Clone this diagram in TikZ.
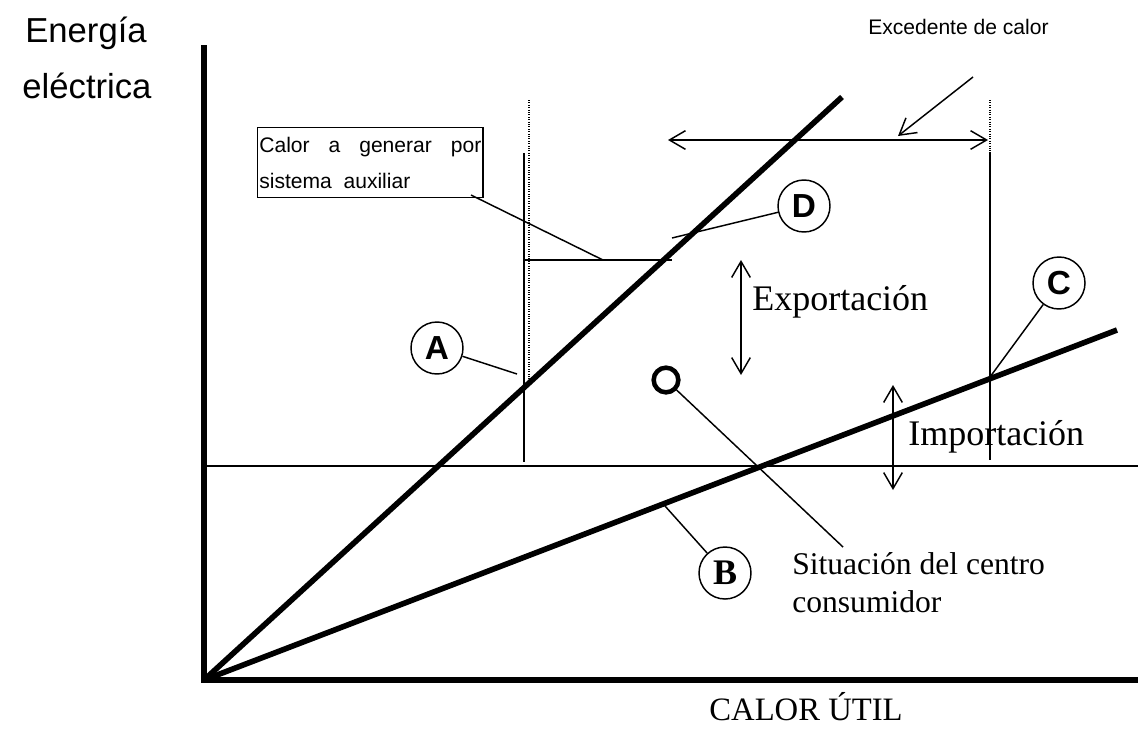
\documentclass[tikz,border=0pt]{standalone}
\usepackage{fontspec}
\setmainfont{Liberation Serif}
\setsansfont{Liberation Sans}
\usetikzlibrary{arrows.meta}

\begin{document}
\begin{tikzpicture}[x=0.75pt, y=-0.75pt,
    axisline/.style={line width=4pt},
    heavy/.style={line width=4.2pt},
    guide/.style={line width=1.1pt},
    dotguide/.style={line width=0.8pt, densely dotted},
    dblarr/.style={{Straight Barb[length=12pt,width=14pt]}-{Straight Barb[length=12pt,width=14pt]}, line width=1.1pt},
    arr/.style={-{Straight Barb[length=12pt,width=14pt]}, line width=1.1pt},
    tag/.style={draw, circle, line width=1.1pt, minimum size=39pt, inner sep=0pt},
    big/.style={font=\fontsize{27}{27}\selectfont, anchor=base west, inner sep=0pt}
]
\useasboundingbox (0,0) rectangle (1138,733);

% Axes
\coordinate (o) at (204,680);
\coordinate (ytop) at (204,45);
\coordinate (xend) at (1138,680);
\draw[axisline] (ytop) -- (o) -- (xend);
\node[anchor=base, inner sep=0pt, font=\sffamily\fontsize{26}{26}\selectfont] (ylab1) at (86,42) {Energía};
\node[anchor=base, inner sep=0pt, font=\sffamily\fontsize{26}{26}\selectfont] (ylab2) at (87,98) {eléctrica};
\node[anchor=base, inner sep=0pt, font=\fontsize{24.5}{24.5}\selectfont] (xlab) at (806,720) {CALOR ÚTIL};

% Demand level
\coordinate (hl) at (204,466);
\coordinate (hr) at (1138,466);
\draw[guide] (hl) -- (hr);

% Lines A/D and B/C
\coordinate (aend) at (842,97);
\coordinate (bend) at (1117,330);
\draw[heavy] (o) -- (aend);
\draw[heavy] (o) -- (bend);

% Left limit (auxiliary heat)
\coordinate (lt) at (524,153);
\coordinate (lb) at (524,462);
\coordinate (ldt) at (529,100);
\coordinate (ldb) at (529,385);
\draw[guide] (lt) -- (lb);
\draw[dotguide] (ldt) -- (ldb);
\coordinate (hs) at (524,260);
\coordinate (he) at (672,260);
\draw[guide] (hs) -- (he);

\node[draw, line width=1.1pt, anchor=north west, text width=166.5pt, minimum height=52.5pt,
      inner sep=1.2pt, align=justify, font=\sffamily\fontsize{15.8}{27}\selectfont]
      (cbox) at (257,127) {\hyphenpenalty=10000 Calor a generar por\linebreak sistema\ \ auxiliar};
\coordinate (boxfoot) at (471,195);
\coordinate (hfoot) at (603,260);
\draw[guide] (boxfoot) -- (hfoot);

% Right limit (heat surplus)
\coordinate (rdt) at (990,100);
\coordinate (rt) at (990,152);
\coordinate (rb) at (990,460);
\draw[dotguide] (rdt) -- (rt);
\draw[guide] (rt) -- (rb);
\coordinate (sl) at (668,140);
\coordinate (sr) at (988,140);
\draw[dblarr] (sl) -- (sr);
\node[anchor=base west, inner sep=0pt, font=\sffamily\fontsize{15.8}{15.8}\selectfont] (exc) at (868,34) {Excedente de calor};
\coordinate (excfrom) at (973,77);
\coordinate (excto) at (898,136);
\draw[arr] (excfrom) -- (excto);

% Export / import
\coordinate (et) at (741,260);
\coordinate (eb) at (741,375);
\draw[dblarr] (et) -- (eb);
\node[big] (exp) at (752,310) {Exportación};
\coordinate (it) at (893,385);
\coordinate (ib) at (893,490);
\draw[dblarr] (it) -- (ib);
\node[big] (imp) at (908,445) {Importación};

% Consumer point
\node[draw, circle, line width=3.4pt, minimum size=18.5pt, inner sep=0pt] (site) at (666,380) {};
\coordinate (sitefoot) at (843,547);
\draw[guide] (site) -- (sitefoot);
\node[anchor=north west, inner sep=0pt, align=left, font=\fontsize{23.7}{28.5}\selectfont] (sitelab) at (792,552) {Situación del centro\\consumidor};

% Tags
\node[tag, font=\sffamily\bfseries\fontsize{25}{25}\selectfont] (tagA) at (437,348) {A};
\node[tag, font=\bfseries\fontsize{27}{27}\selectfont] (tagB) at (725,573) {B};
\node[tag, font=\sffamily\bfseries\fontsize{25}{25}\selectfont] (tagC) at (1059,283) {C};
\node[tag, font=\sffamily\bfseries\fontsize{25}{25}\selectfont] (tagD) at (804,206) {D};
\coordinate (pA) at (517,374);
\coordinate (pB) at (665,506);
\coordinate (pC) at (990,377);
\coordinate (pD) at (672,238);
\draw[guide] (tagA) -- (pA);
\draw[guide] (tagB) -- (pB);
\draw[guide] (tagC) -- (pC);
\draw[guide] (tagD) -- (pD);
\end{tikzpicture}
\end{document}
